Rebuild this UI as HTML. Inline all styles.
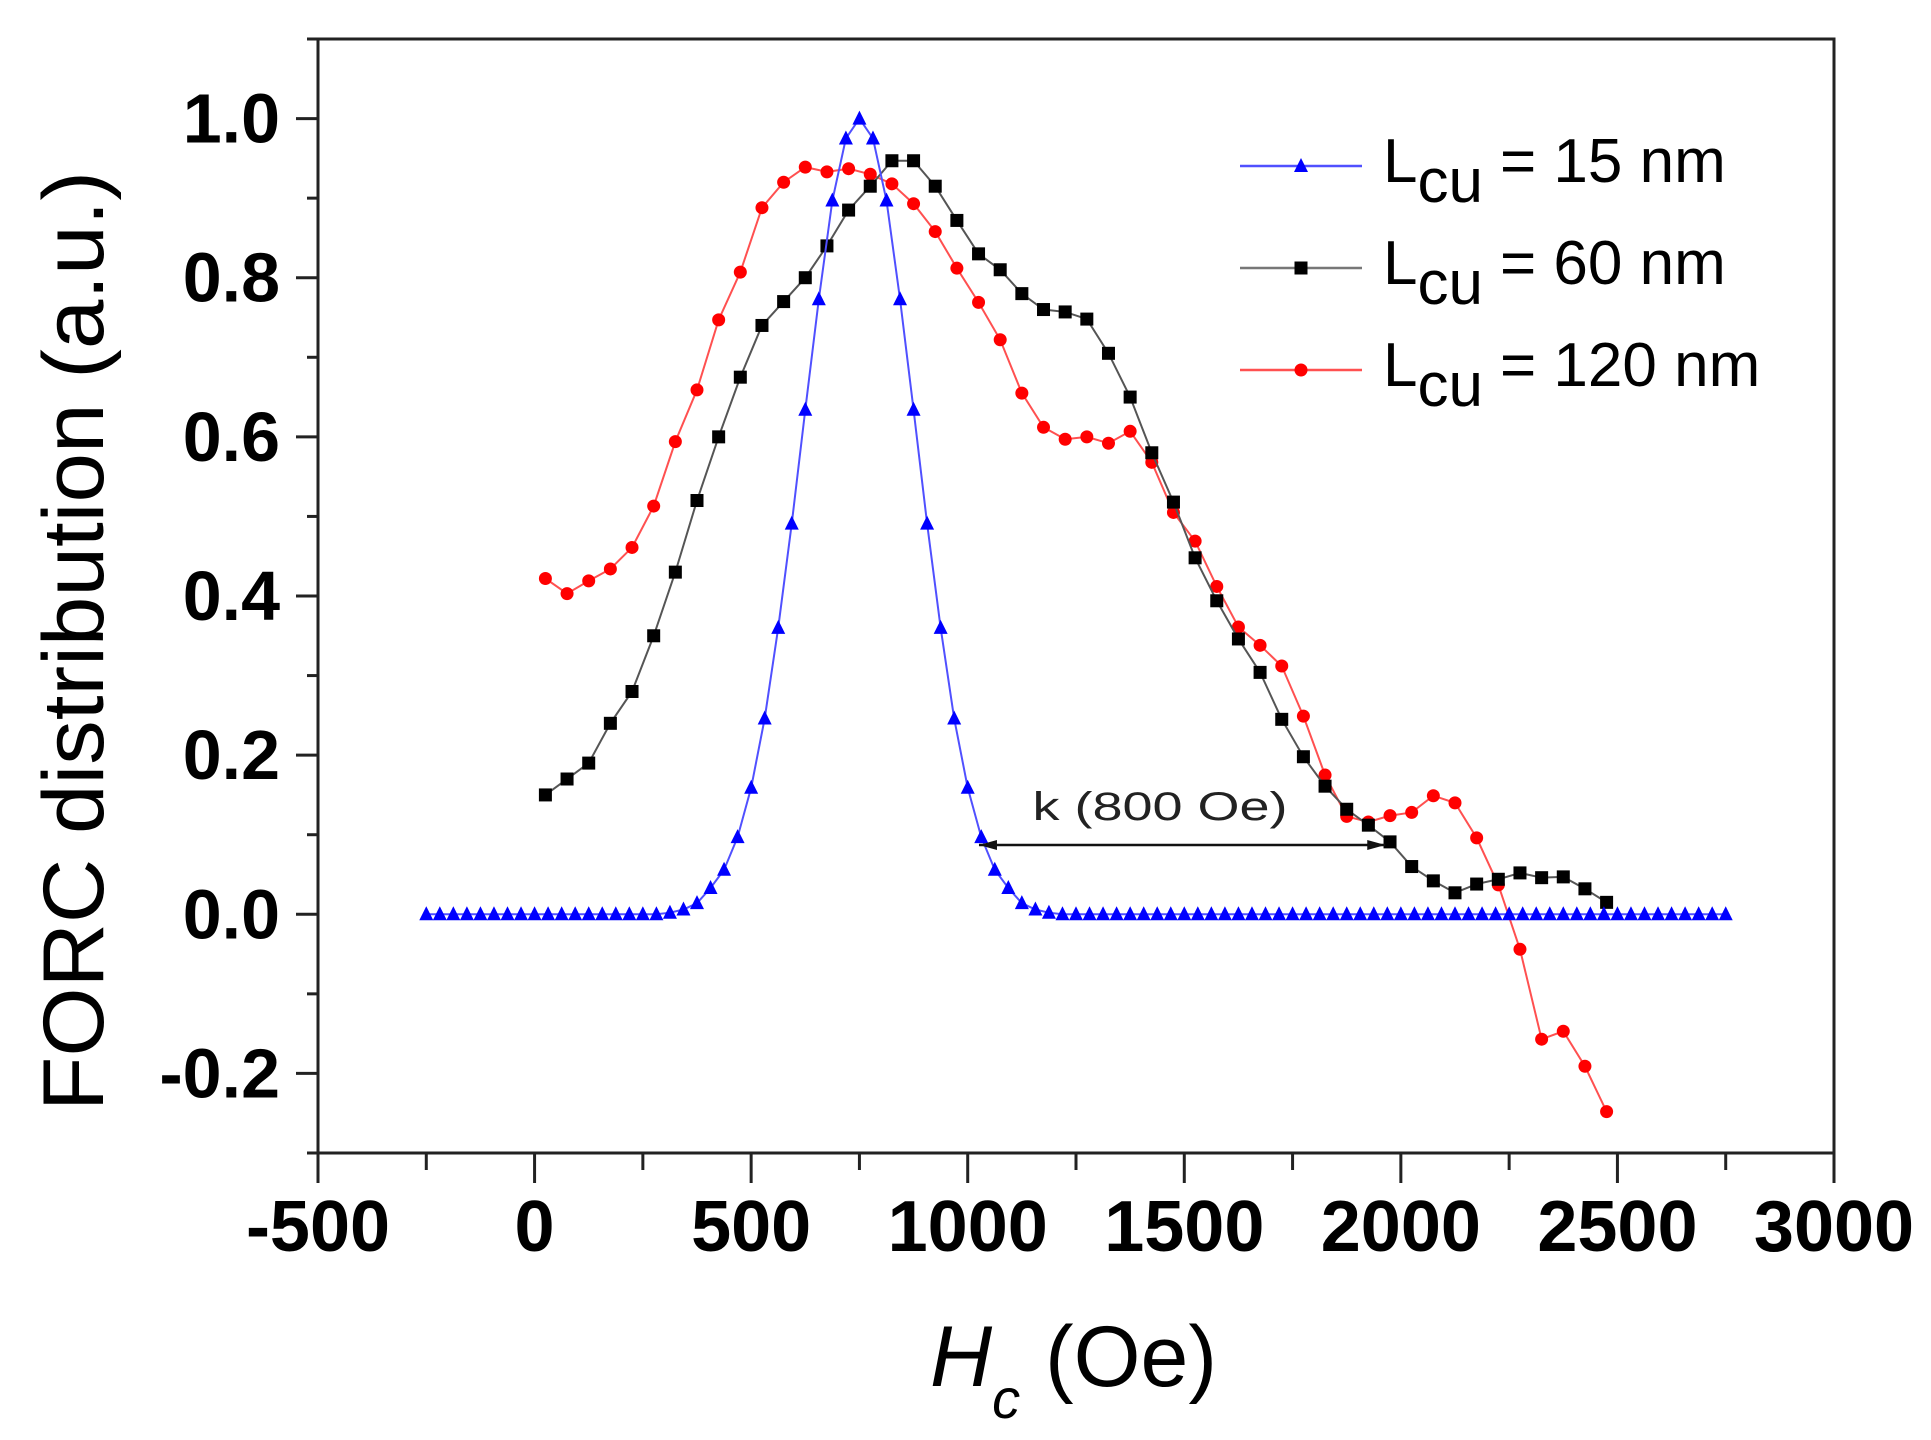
<!DOCTYPE html>
<html><head><meta charset="utf-8"><style>
html,body{margin:0;padding:0;background:#fff;}
svg{display:block;font-family:"Liberation Sans",Arial,sans-serif;}
</style></head><body>
<svg id="chart" width="1931" height="1440" viewBox="0 0 1931 1440" xmlns="http://www.w3.org/2000/svg">
<rect width="1931" height="1440" fill="#fff"/>
<g id="plot"></g>
</svg>
<script>
const xTicks=[-500,0,500,1000,1500,2000,2500,3000];
const yTicks=[-0.2,0,0.2,0.4,0.6,0.8,1.0];
const yTickLabels=["-0.2","0.0","0.2","0.4","0.6","0.8","1.0"];
const blueX=[];for(let i=0;i<=96;i++)blueX.push(-250+i*31.25);
const bluePeak=[1.0,0.975,0.897,0.773,0.634,0.491,0.360,0.246,0.159,0.097,0.056,0.033,0.014,0.006,0.002];
const blueY=blueX.map((x,i)=>{const k=Math.abs(i-32);return k<bluePeak.length?bluePeak[k]:0;});
const blackX=[];for(let i=0;i<50;i++)blackX.push(25+i*50);
const blackY=[0.15,0.17,0.19,0.24,0.28,0.35,0.43,0.52,0.60,0.675,0.74,0.77,0.80,0.84,0.885,0.915,0.947,0.947,0.915,0.872,0.83,0.81,0.78,0.76,0.757,0.748,0.705,0.65,0.58,0.518,0.448,0.394,0.346,0.304,0.245,0.198,0.161,0.132,0.112,0.091,0.060,0.042,0.027,0.038,0.044,0.052,0.046,0.047,0.032,0.015];
const redX=[];for(let i=0;i<50;i++)redX.push(25+i*50);
const redY=[0.422,0.403,0.419,0.434,0.461,0.513,0.594,0.659,0.747,0.807,0.888,0.920,0.939,0.933,0.937,0.930,0.918,0.893,0.858,0.812,0.769,0.722,0.655,0.612,0.597,0.600,0.592,0.607,0.568,0.505,0.469,0.412,0.361,0.338,0.312,0.249,0.175,0.123,0.116,0.124,0.128,0.149,0.140,0.096,0.037,-0.044,-0.157,-0.147,-0.191,-0.248];
const arrowFrom=1026, arrowTo=1964, arrowY=0.087;

const L=318,R=1834,T=39,B=1153;
const X=v=>L+(v+500)/3500*(R-L);
const Y=v=>B-(v+0.3)/1.4*(B-T);
const NS="http://www.w3.org/2000/svg";
const g=document.getElementById('plot');
function el(tag,attrs,parent){const e=document.createElementNS(NS,tag);for(const k in attrs)e.setAttribute(k,attrs[k]);(parent||g).appendChild(e);return e;}

const frame=el('rect',{x:L,y:T,width:R-L,height:B-T,fill:'none',stroke:'#222','stroke-width':3});



for(let v=-500;v<=3000;v+=250){
  const major=(v%500===0);
  const t=el('line',{x1:X(v),x2:X(v),y1:B,y2:B+(major?30:17),stroke:'#222','stroke-width':3});
  
  
}
xTicks.forEach(v=>{
  const t=el('text',{x:X(v),y:1251,'text-anchor':'middle','font-size':72,'font-weight':'bold',fill:'#000'});
  t.textContent=String(v);
  
  
});
for(let k=-3;k<=11;k++){
  const v=k/10;const major=(k%2===0);
  const t=el('line',{x1:L,x2:L-(major?22:11),y1:Y(v),y2:Y(v),stroke:'#222','stroke-width':3});
  
  
}
yTicks.forEach((v,i)=>{
  const t=el('text',{x:280,y:Y(v)+24,'text-anchor':'end','font-size':70,'font-weight':'bold',fill:'#000'});
  t.textContent=yTickLabels[i];
  
  
});

const yt=el('text',{x:0,y:0,transform:'translate(103,641) rotate(-90)','text-anchor':'middle','font-size':86,fill:'#000',textLength:940,lengthAdjust:'spacingAndGlyphs'});
yt.textContent='FORC distribution (a.u.)';


const xt=el('text',{x:930,y:1386,'font-size':86,fill:'#000'});


const h=el('tspan',{'font-style':'italic'},xt);h.textContent='H';
const c=el('tspan',{'font-style':'italic','font-size':56,dy:32},xt);c.textContent='c';
const oe=el('tspan',{x:1045,dy:-32},xt);oe.textContent='(Oe)';

function marker(type,x,y,color,parent){
  if(type==='tri') return el('polygon',{points:`${x},${y-8} ${x-7},${y+6} ${x+7},${y+6}`,fill:color},parent);
  if(type==='sq') return el('rect',{x:x-6.5,y:y-6.5,width:13,height:13,fill:color},parent);
  return el('circle',{cx:x,cy:y,r:6.5,fill:color},parent);
}
function series(name,xs,ys,line,mcol,type){
  const sg=el('g',{});
  
  
  const pl=el('polyline',{points:xs.map((x,i)=>X(x)+','+Y(ys[i])).join(' '),fill:'none',stroke:line,'stroke-width':2},sg);
  
  
  xs.forEach((x,i)=>{
    const m=marker(type,X(x),Y(ys[i]),mcol,sg);
    
    
  });
}
series('series-120nm',redX,redY,'#ff5050','#ff0000','circ');
series('series-60nm',blackX,blackY,'#555','#000','sq');
series('series-15nm',blueX,blueY,'#5050ff','#0000ff','tri');

const ay=Y(arrowY);
const al=el('line',{x1:X(arrowFrom),x2:X(arrowTo),y1:ay,y2:ay,stroke:'#111','stroke-width':2.5});


const ah1=el('polygon',{points:`${X(arrowFrom)},${ay} ${X(arrowFrom)+18},${ay-5} ${X(arrowFrom)+18},${ay+5}`,fill:'#111'});


const ah2=el('polygon',{points:`${X(arrowTo)},${ay} ${X(arrowTo)-18},${ay-5} ${X(arrowTo)-18},${ay+5}`,fill:'#111'});


const kt=el('text',{x:1160,y:ay-25,'text-anchor':'middle','font-size':40,fill:'#222',textLength:255,lengthAdjust:'spacingAndGlyphs'});
kt.textContent='k (800 Oe)';



const legend=el('g',{});


const entries=[['15 nm','#5050ff','#0000ff','tri',166],['60 nm','#777','#000','sq',268],['120 nm','#ff5050','#ff0000','circ',370]];
entries.forEach(e=>{
  const eg=el('g',{},legend);
  
  
  el('line',{x1:1240,x2:1362,y1:e[4],y2:e[4],stroke:e[1],'stroke-width':2.5},eg);
  marker(e[3],1301,e[4],e[2],eg);
  const t=el('text',{x:1383,y:e[4]+16,'font-size':62,fill:'#000'},eg);
  const t1=el('tspan',{},t);t1.textContent='L';
  const t2=el('tspan',{dy:20},t);t2.textContent='cu';
  const t3=el('tspan',{x:1500,dy:-20},t);t3.textContent='= '+e[0];
});
</script>
</body></html>
